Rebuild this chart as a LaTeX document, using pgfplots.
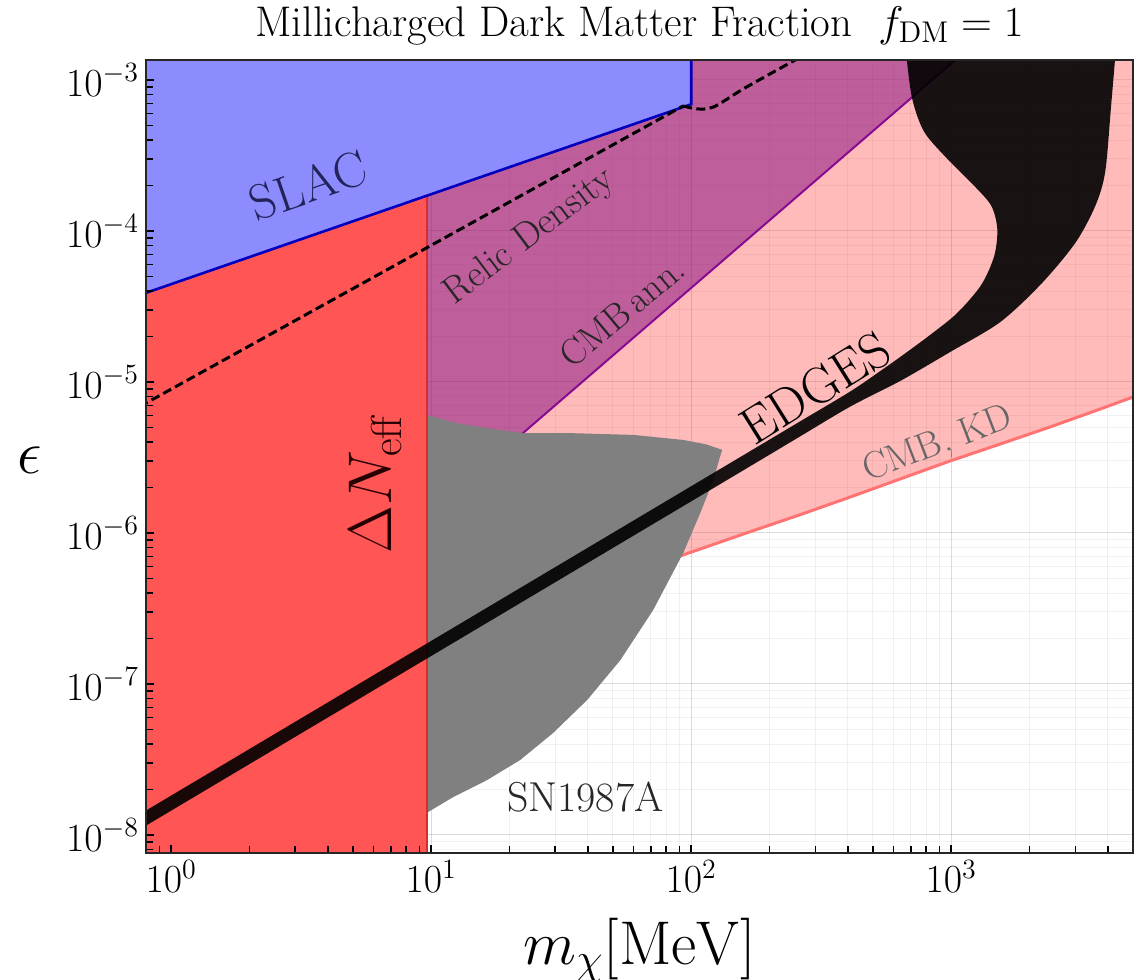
\documentclass[border=0pt]{standalone}
\usepackage{fix-cm}
\usepackage{pgfplots}
\pgfplotsset{compat=1.18}
\pgfplotsset{
 layers/gridbelow/.define layer set={axis background,axis grid,main,axis ticks,axis lines,axis tick labels,axis descriptions,axis foreground}{/pgfplots/layers/standard},
}
\definecolor{slacfill}{RGB}{140,140,255}
\definecolor{slacedge}{RGB}{0,0,190}
\definecolor{neffred}{RGB}{255,85,85}
\definecolor{neffedge}{RGB}{215,45,45}
\definecolor{cmbann}{RGB}{124,0,125}
\definecolor{cmbannedge}{RGB}{135,10,145}
\definecolor{kdfill}{RGB}{255,0,0}
\definecolor{kdedge}{RGB}{255,115,115}
\definecolor{sngray}{RGB}{128,128,128}
\definecolor{edgesc}{RGB}{0,0,0}
\begin{document}
\begin{tikzpicture}
\begin{axis}[
 name=ax,
 set layers=gridbelow,
 scale only axis, width=493.5bp, height=396.5bp,
 xmode=log, ymode=log,
 xmin=0.8, xmax=5000, ymin=7.6e-9, ymax=1.355e-3,
 grid=both,
 major grid style={black, opacity=0.09, line width=0.5bp},
 minor grid style={black, opacity=0.055, line width=0.5bp},
 tick pos=left, tick align=inside,
 major tick length=4bp, minor tick length=3.5bp,
 every tick/.style={black, line width=0.8bp},
 axis line style={black!85, line width=1bp},
 tick label style={font=\fontsize{20}{22}\selectfont},
 title={Millicharged Dark Matter Fraction\ \ $f_{\mathrm{DM}}=1$},
 every axis title/.style={font=\fontsize{21.5}{25}\selectfont, at={(axis description cs:0.5,1.030)}, anchor=base},
 xlabel={$m_\chi[\mathrm{MeV}]$},
 every axis x label/.style={at={(axis description cs:0.5,-0.1223)}, anchor=center, font=\fontsize{31}{35}\selectfont},
 ylabel={$\epsilon$},
 every axis y label/.style={at={(axis description cs:-0.1175,0.4956)}, anchor=center, font=\fontsize{31}{35}\selectfont},
]
% CMB, KD (pink)
\addplot[fill=kdfill, fill opacity=0.27, draw=none] coordinates {(9.6,3e-7) (40,4.5e-7) (90.8,7.05e-7) (168.6,1.02e-6) (262,1.32e-6) (409,1.73e-6) (637,2.28e-6) (991,3.0e-6) (1542,3.88e-6) (2404,5.04e-6) (3742,6.62e-6) (5012,7.96e-6) (6000,8.9e-6) (6000,3e-3) (9.6,3e-3)} -- cycle;
\addplot[kdedge, line width=1.5bp] coordinates {(40,4.5e-7) (90.8,7.05e-7) (168.6,1.02e-6) (262,1.32e-6) (409,1.73e-6) (637,2.28e-6) (991,3.0e-6) (1542,3.88e-6) (2404,5.04e-6) (3742,6.62e-6) (5012,7.96e-6) (6000,8.9e-6)};
% CMB ann. (purple)
\addplot[fill=cmbann, fill opacity=0.495, draw=none] coordinates {(9.6,1.29e-6) (1346,2e-3) (9.6,2e-3)} -- cycle;
\addplot[cmbannedge, line width=1bp] coordinates {(9.6,1.29e-6) (1346,2e-3)};
% SN1987A (gray)
\addplot[fill=sngray, draw=none] coordinates {(9.6,6.04e-6) (12.9,5.27e-6) (18.4,4.81e-6) (22.6,4.59e-6) (33.3,4.59e-6) (59.8,4.46e-6) (93.2,4.13e-6) (115,3.85e-6) (131.5,3.55e-6) (129,3.19e-6) (121.6,2.24e-6) (108.4,1.36e-6) (93.2,7.38e-7) (71.4,3.09e-7) (53.4,1.44e-7) (39.8,7.83e-8) (29.4,4.73e-8) (22.0,3.14e-8) (16.4,2.31e-8) (12.2,1.79e-8) (9.6,1.40e-8)} -- cycle;
% Delta N_eff (red)
\addplot[fill=neffred, draw=none] coordinates {(0.5,1e-9) (9.6,1e-9) (9.6,1.71e-4) (0.5,2.94e-5)} -- cycle;
\addplot[neffedge, line width=1bp] coordinates {(9.6,1e-9) (9.6,1.71e-4)};
% SLAC (blue)
\addplot[fill=slacfill, draw=none] coordinates {(0.5,2.94e-5) (100,6.9e-4) (100,3e-3) (0.5,3e-3)} -- cycle;
\addplot[slacedge, line width=1.3bp] coordinates {(0.5,2.94e-5) (100,6.9e-4) (100,3e-3)};
% EDGES band
\addplot[fill=edgesc, fill opacity=0.9, draw=none, smooth] coordinates {(0.5,7.13e-9) (100,1.62e-6) (250,4.15e-6) (409,6.87e-6) (637,1.016e-5) (991,1.58e-5) (1542,2.49e-5) (2218,4.46e-5) (3000,8.33e-5) (3581,1.465e-4) (3909,2.46e-4) (4121,6.83e-4) (4276,1.47e-3) (4330,2.5e-3) (650,2.5e-3) (671,1.47e-3) (708,7.48e-4) (787,4.53e-4) (966,3.0e-4) (1225,1.99e-4) (1426,1.465e-4) (1503,1.03e-4) (1463,6.83e-5) (1304,4.39e-5) (1054,2.86e-5) (830,2.05e-5) (637,1.465e-5) (533,1.18e-5) (409,8.65e-6) (250,5.22e-6) (100,2.04e-6) (0.5,8.97e-9)} -- cycle;
% Relic density (dashed)
\addplot[black, line width=1.5bp, dash pattern=on 4.5bp off 2.2bp] coordinates {(0.5,4.63e-6) (93.2,6.73e-4)};
\addplot[black, line width=1.5bp, dash pattern=on 4.5bp off 2.2bp, smooth] coordinates {(93.2,6.73e-4) (105,6.43e-4) (122,6.63e-4) (161,8.85e-4) (256,1.38e-3) (400,2.1e-3)};
% labels
\node[rotate=19, font=\fontsize{25}{28}\selectfont, text={rgb,255:red,35;green,35;blue,90}] at (axis cs:3.37,2.0e-4) {SLAC};
\node[rotate=37, font=\fontsize{19}{22}\selectfont, text=black!85] at (axis cs:24.0,9.12e-5) {Relic Density};
\node[rotate=40, font=\fontsize{18.5}{21}\selectfont, text=black!85] at (axis cs:54.3,2.91e-5) {CMB\,ann.};
\node[rotate=32, font=\fontsize{26}{30}\selectfont] at (axis cs:300,9.12e-6) {EDGES};
\node[rotate=21, font=\fontsize{19}{22}\selectfont, text=black!60] at (axis cs:891,3.83e-6) {CMB, KD};
\node[rotate=90, font=\fontsize{31}{35}\selectfont, text=black!85!red] at (axis cs:6.1,2.14e-6) {$\Delta N_{\mathrm{eff}}$};
\node[font=\fontsize{21}{24}\selectfont, text=black!85] at (axis cs:39.1,1.79e-8) {SN1987A};
\end{axis}
\pgfresetboundingbox
\path[use as bounding box] ([shift={(-73bp,-63.5bp)}]ax.south west) rectangle ([shift={(3.5bp,30bp)}]ax.north east);
\end{tikzpicture}
\end{document}
